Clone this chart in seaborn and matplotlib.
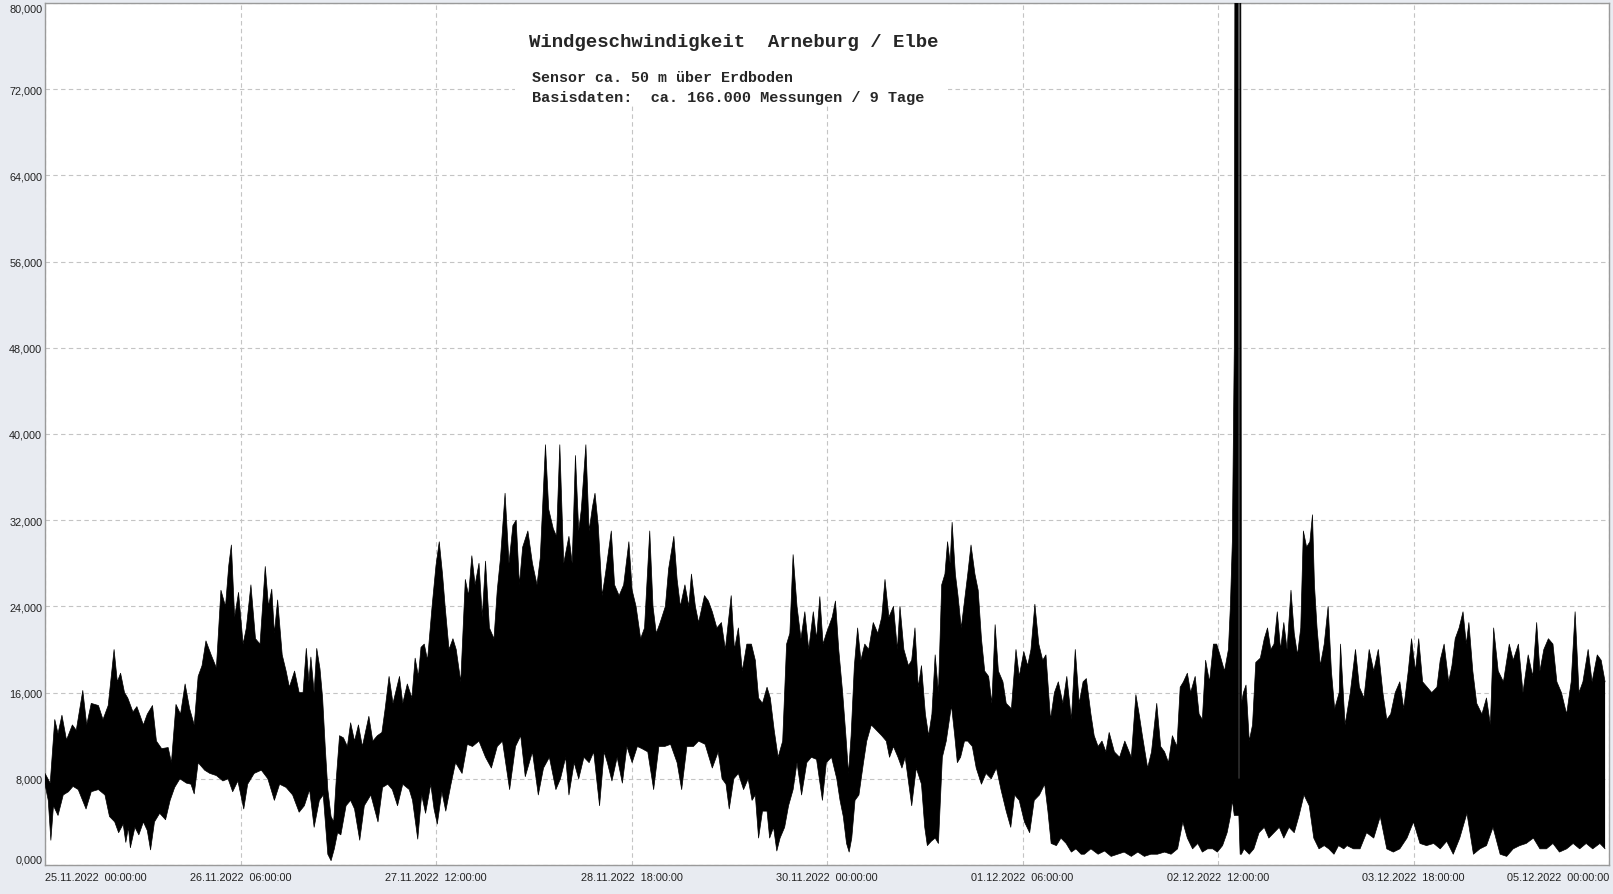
import matplotlib
matplotlib.use("Agg")
import matplotlib.pyplot as plt
import matplotlib.patches as mpatches
import seaborn as sns
import numpy as np

# hours since 25.11.2022 00:00 and wind speed
# upper edge of the band (peaks)
top_h = [0, 0.8, 1.5, 2.0, 2.6, 3.3, 4.2, 4.8, 5.8, 6.4, 7.1, 8.2, 8.9, 9.7, 10.6, 11.1, 11.6, 12.2, 12.7, 13.5,
         14.1, 15.1, 15.7, 16.5, 17.1, 17.9, 18.9, 19.4, 20.1, 20.8, 21.5, 22.2, 22.9, 23.5, 24.1, 24.7, 25.5, 26.3,
         27.0, 27.7, 28.2, 28.6, 29.1, 29.7, 30.4, 30.9, 31.6, 32.3, 33.0, 33.8, 34.3, 34.8, 35.2, 35.7, 36.4, 37.0,
         37.5, 38.3, 39.0, 39.6, 40.1, 40.5, 40.8, 41.3, 41.7, 42.2, 42.6, 43.0, 43.4, 43.9, 44.3, 44.7, 45.2, 45.8,
         46.4, 46.9, 47.5, 48.1, 48.7, 49.7, 50.3, 51.0, 51.7, 52.2, 52.8, 53.4, 54.4, 54.9, 55.6, 56.3, 56.8, 57.3,
         57.7, 58.2, 58.7, 59.4, 60.0, 60.5, 61.0, 61.4, 62.0, 62.6, 63.1, 63.8, 64.5, 65.0, 65.5, 66.0, 66.6, 67.1,
         67.6, 68.2, 68.9, 69.4, 69.9, 70.6, 71.2, 71.8, 72.3, 72.8, 73.3, 74.1, 74.8, 75.5, 76.0, 76.8, 77.3, 78.0,
         78.5, 79.0, 79.6, 80.4, 80.9, 81.4, 81.9, 82.3, 83.0, 83.5, 84.0, 84.4, 84.9, 85.5, 86.0, 86.9, 87.4, 88.1,
         88.8, 89.6, 90.1, 90.7, 91.4, 92.0, 92.8, 93.3, 93.8, 94.4, 95.2, 95.7, 96.5, 97.0, 97.5, 98.2, 98.8, 99.2,
         99.8, 100.3, 101.2, 101.8, 102.4, 103.1, 103.8, 104.4, 105.3, 105.8, 106.4, 107.0, 107.7, 108.4, 109.0,
         109.5, 110.1, 110.8, 111.3, 111.9, 112.5, 113.2, 113.8, 114.3, 114.8, 115.4, 116.0, 116.6, 117.2, 117.9,
         118.4, 118.9, 119.4, 119.9, 120.8, 121.3, 121.8, 122.4, 122.9, 123.3, 123.7, 124.2, 124.7, 125.2, 125.8,
         126.4, 127.1, 127.8, 128.4, 128.9, 129.5, 130.2, 130.8, 131.2, 131.8, 132.5, 133.0, 133.5, 134.0, 134.5,
         135.1, 135.6, 136.1, 136.6, 137.1, 137.6, 138.1, 138.5, 138.9, 139.2, 139.7, 140.1, 140.6, 141.1, 141.6,
         142.1, 142.7, 143.2, 143.7, 144.2, 144.8, 145.3, 145.8, 146.3, 147.0, 147.5, 148.3, 149.0, 149.5, 150.2,
         150.8, 151.3, 151.9, 152.5, 153.1, 153.6, 154.3, 154.9, 155.5, 156.2, 156.8, 157.5, 158.1, 158.7, 159.3,
         159.8, 160.5, 161.0, 161.6, 162.2, 162.8, 163.3, 164.1, 164.9, 165.7, 166.7, 167.4, 167.9, 168.4, 169.2,
         169.8, 170.6, 171.2, 171.8, 172.4, 173.0, 173.7, 174.2, 174.7, 175.3, 175.8, 176.5, 177.1, 177.6, 178.1,
         178.7, 179.3, 179.8, 180.3, 181.0, 181.6, 181.9, 182.2, 182.5, 182.6, 183.1, 183.15, 183.3, 183.35, 183.5,
         183.6, 183.9, 184.3, 184.8, 185.3, 185.8, 186.5, 187.1, 187.6, 188.1, 188.6, 189.1, 189.6, 190.1, 190.6,
         191.2, 191.7, 192.2, 192.7, 193.1, 193.6, 194.1, 194.5, 194.8, 195.2, 195.7, 196.3, 196.9, 197.4, 197.9,
         198.6, 198.8, 199.5, 200.3, 201.1, 201.7, 202.4, 203.2, 203.9, 204.6, 205.3, 205.9, 206.5, 207.2, 207.9,
         208.5, 209.2, 209.7, 210.3, 210.8, 211.4, 212.1, 212.8, 213.6, 214.1, 214.7, 215.4, 215.9, 216.4, 217.0,
         217.6, 218.1, 218.5, 219.1, 219.7, 220.5, 221.2, 221.8, 222.3, 223.0, 223.8, 224.7, 225.3, 226.1, 226.8,
         227.6, 228.3, 228.9, 229.4, 230.0, 230.7, 231.4, 232.0, 232.7, 233.5, 234.2, 234.8, 235.4, 236.0, 236.8,
         237.4, 238.2, 238.8, 239.4]
top_v = [8.5, 7.6, 13.5, 12.2, 13.9, 11.6, 13.0, 12.5, 16.2, 13.0, 15.0, 14.8, 13.5, 14.8, 20.0, 17.0, 17.8, 16.0, 15.5, 14.2,
         14.7, 13.0, 14.0, 14.8, 11.5, 10.8, 10.9, 9.5, 14.9, 14.0, 16.8, 14.5, 13.0, 17.5, 18.5, 20.8, 19.5, 18.3,
         25.5, 24.0, 27.8, 29.7, 23.0, 25.3, 20.5, 22.0, 26.0, 21.0, 20.5, 27.7, 24.0, 25.6, 21.5, 24.6, 19.5, 18.0,
         16.5, 18.0, 16.0, 16.0, 20.1, 17.0, 19.3, 16.0, 20.1, 18.2, 15.5, 11.0, 7.0, 4.5, 4.0, 8.0, 12.0, 11.8,
         11.0, 13.2, 11.5, 13.0, 11.0, 13.8, 11.5, 12.0, 12.3, 14.5, 17.5, 15.0, 17.5, 15.0, 16.8, 15.5, 19.2, 17.5,
         20.2, 20.5, 19.0, 24.0, 27.8, 30.0, 27.0, 24.0, 20.0, 21.0, 20.0, 17.0, 26.5, 25.0, 28.7, 26.0, 28.0, 23.0,
         28.2, 22.0, 21.0, 25.5, 28.5, 34.5, 28.0, 31.5, 32.0, 26.0, 29.5, 31.0, 28.0, 26.0, 28.5, 39.0, 33.0, 31.2,
         30.5, 39.0, 28.0, 30.5, 28.0, 38.0, 31.0, 33.0, 39.0, 31.0, 33.2, 34.5, 31.5, 25.0, 27.0, 31.0, 26.0, 25.0,
         26.0, 30.0, 25.5, 24.0, 21.0, 22.0, 31.0, 24.0, 21.5, 22.5, 24.0, 27.5, 30.5, 26.5, 24.0, 26.0, 24.0, 27.0,
         24.0, 22.5, 25.0, 24.5, 23.5, 22.0, 22.5, 20.0, 25.0, 20.0, 22.0, 18.0, 20.5, 20.5, 19.0,
         15.5, 15.0, 16.5, 15.5, 12.5, 10.0, 11.5, 20.5, 21.5, 28.8, 24.0, 21.0, 23.5, 20.0, 23.5,
         21.0, 24.9, 20.5, 21.5, 23.0, 24.5, 20.0, 16.0, 12.0, 8.5, 12.0, 18.5, 22.0, 19.0, 20.5,
         20.0, 22.5, 21.5, 23.0, 26.5, 23.0, 24.0, 20.0, 24.0, 20.0, 18.5, 19.0, 22.0, 16.5, 18.5,
         14.0, 12.0, 14.0, 19.5, 16.0, 26.0, 27.0, 30.0, 28.0, 31.8, 27.0, 25.0, 22.0, 24.5, 27.0,
         29.7, 27.0, 25.5, 21.0, 18.0, 17.5, 15.0, 22.3, 18.0, 17.0, 15.0, 14.5, 20.0, 17.5, 19.8,
         18.5, 20.0, 24.2, 20.5, 19.0, 19.5, 13.5, 16.0, 17.0, 15.0, 17.5, 13.5, 20.0, 15.0, 17.0,
         17.3, 14.0, 12.0, 11.0, 11.5, 10.5, 12.3, 10.5, 10.0, 11.5, 10.0, 15.8, 14.0, 12.0, 9.0,
         10.5, 15.0, 11.0, 10.5, 9.5, 12.0, 11.0, 16.5, 17.0, 17.8, 16.0, 17.5, 14.0, 13.5, 19.0,
         17.0, 20.5, 20.5, 19.5, 18.0, 20.0, 24.0, 30.0, 48.0, 85.0, 85.0, 8.0, 8.0, 85.0, 85.0,
         15.0, 16.0, 16.7, 11.5, 13.0, 18.8, 19.2, 21.0, 22.0, 20.0, 20.5, 23.5, 20.0, 22.5, 20.0,
         25.5, 21.5, 19.5, 22.0, 31.0, 29.5, 30.0, 32.5, 26.0, 22.0, 18.5, 20.5, 24.0, 18.0, 14.5,
         16.0, 20.5, 13.0, 16.0, 20.0, 16.5, 15.5, 20.0, 18.0, 20.0, 16.0, 13.5, 14.0, 16.0, 17.0,
         14.5, 18.0, 21.0, 18.0, 21.0, 17.0, 16.5, 16.0, 16.5, 19.0, 20.5, 17.0, 18.5, 21.0, 22.0,
         23.5, 20.5, 22.5, 18.0, 15.0, 14.0, 15.5, 13.0, 22.0, 18.0, 17.0, 20.5, 19.0, 20.5, 16.0,
         19.5, 17.5, 22.5, 18.0, 20.0, 21.0, 20.5, 17.0, 16.0, 14.0, 17.0, 23.5, 16.0, 17.0, 20.0,
         17.0, 19.5, 19.0, 17.0]

# lower edge of the band (troughs)
low_h = [0, 0.5, 0.9, 1.3, 2.0, 2.8, 3.6, 4.3, 5.1, 6.3, 7.1, 8.2, 9.2, 9.9, 10.7, 11.3, 12.0, 12.4, 12.8, 13.1,
         13.8, 14.4, 15.1, 15.7, 16.2, 16.8, 17.6, 18.5, 19.2, 19.9, 20.7, 21.7, 22.4, 22.9, 23.5, 24.5, 25.3, 26.3,
         27.3, 28.1, 28.8, 29.6, 30.5, 31.1, 32.1, 33.2, 34.2, 35.2, 36.0, 37.0, 38.0, 39.0, 39.8, 40.6, 41.3, 42.1,
         42.7, 43.4, 43.9, 44.4, 44.9, 45.4, 46.2, 46.9, 47.5, 48.3, 49.0, 50.0, 51.1, 51.8, 52.6, 53.3, 54.1, 54.9,
         55.9, 56.4, 57.2, 57.8, 58.4, 59.2, 59.7, 60.2, 60.9, 61.5, 62.3, 63.0, 64.0, 64.8, 65.6, 66.6, 67.6, 68.5,
         69.4, 70.2, 71.3, 72.2, 73.0, 73.7, 74.8, 75.7, 76.5, 77.4, 78.4, 79.1, 79.9, 80.4, 81.2, 81.9, 82.7, 83.5,
         84.2, 85.1, 85.8, 86.3, 87.0, 87.8, 88.6, 89.3, 90.1, 90.9, 91.6, 92.5, 93.4, 94.2, 95.1, 96.0, 97.0, 97.7,
         98.5, 99.5, 100.3, 101.3, 102.4, 103.3, 103.9, 104.5, 105.0, 105.7, 106.4, 107.2, 107.9, 108.5, 109.0,
         109.5, 110.1, 110.8, 111.2, 111.8, 112.3, 112.8, 113.5, 114.1, 114.8, 115.4, 116.1, 116.9, 117.6, 118.4,
         119.3, 119.9, 120.7, 121.5, 122.0, 122.5, 123.0, 123.4, 123.8, 124.3, 124.9, 125.6, 126.1, 126.8, 127.6,
         128.4, 129.1, 129.6, 130.2, 130.9, 131.5, 132.0, 133.0, 133.7, 134.5, 135.0, 135.4, 136.0, 136.6, 137.1,
         137.7, 138.3, 139.1, 139.6, 140.0, 140.5, 141.1, 141.6, 142.3, 142.9, 143.7, 144.4, 145.2, 146.0, 146.7,
         147.5, 148.2, 148.8, 149.5, 150.3, 151.1, 151.8, 152.6, 153.4, 153.9, 154.4, 155.2, 155.9, 156.7, 157.5,
         158.2, 159.0, 159.5, 160.5, 161.6, 162.6, 163.6, 164.6, 165.6, 166.7, 167.7, 168.7, 169.7, 170.7, 171.8,
         172.8, 173.8, 174.6, 175.3, 176.1, 176.9, 177.6, 178.4, 179.2, 179.9, 180.7, 181.4, 181.9, 182.2, 182.5,
         183.2, 183.4, 183.6, 184.0, 184.8, 185.5, 186.3, 187.1, 187.8, 188.6, 189.4, 190.1, 190.9, 191.7, 192.4,
         193.2, 194.0, 194.7, 195.5, 196.3, 197.0, 197.8, 198.5, 199.3, 199.8, 200.8, 201.8, 202.8, 203.9, 204.9,
         205.9, 206.9, 207.9, 209.0, 210.0, 211.0, 212.0, 213.1, 214.1, 215.1, 216.1, 217.1, 218.2, 219.2, 220.2,
         221.2, 222.2, 223.3, 224.3, 225.3, 226.3, 227.3, 228.4, 229.4, 230.4, 231.4, 232.4, 233.5, 234.5, 235.5,
         236.5, 237.5, 238.6, 239.4]
low_v = [7.5, 6.0, 2.3, 5.5, 4.6, 6.5, 6.8, 7.3, 7.0, 5.2, 6.8, 7.0, 6.5, 4.5, 4.0, 3.0, 3.8, 2.1, 3.5, 1.6,
         3.5, 2.8, 4.0, 3.2, 1.4, 4.0, 4.8, 4.2, 6.0, 7.2, 8.0, 7.6, 7.5, 6.6, 9.5, 8.8, 8.5, 8.3,
         7.8, 8.0, 6.8, 7.8, 5.2, 7.5, 8.5, 8.8, 8.0, 6.0, 7.5, 7.2, 6.5, 4.9, 5.5, 7.0, 3.5, 6.0,
         6.5, 1.0, 0.4, 1.5, 3.0, 2.8, 5.5, 6.0, 5.2, 2.3, 5.5, 6.5, 4.0, 7.2, 7.5, 7.0, 5.5, 7.5,
         7.0, 6.0, 2.4, 6.5, 4.8, 7.5, 5.2, 3.8, 6.8, 5.0, 7.5, 9.5, 8.5, 11.2, 11.0, 11.5, 10.0, 9.0,
         11.0, 11.5, 7.0, 11.0, 12.0, 8.2, 10.5, 6.5, 9.0, 10.0, 7.0, 8.0, 10.0, 6.5, 9.5, 8.0, 10.0, 9.5,
         10.5, 5.5, 10.5, 9.5, 7.8, 10.0, 7.6, 11.0, 9.5, 11.0, 10.8, 10.5, 7.0, 11.0, 11.0, 11.2, 9.5, 7.0,
         11.0, 11.0, 11.5, 11.2, 9.0, 10.5, 8.0, 7.5, 5.2, 8.0, 8.5, 7.0, 8.0, 6.0, 6.5,
         2.5, 5.0, 5.0, 2.5, 3.5, 1.3, 2.5, 3.5, 5.5, 7.0, 9.5, 6.5, 9.5, 10.0, 9.8,
         6.0, 9.5, 10.0, 8.0, 6.0, 4.5, 2.0, 1.2, 2.5, 6.0, 6.5, 9.5, 11.5, 13.0, 12.5,
         12.0, 11.5, 10.0, 11.0, 10.0, 9.0, 10.0, 5.5, 9.0, 7.5, 3.5, 1.8, 2.2, 2.5, 2.0,
         10.0, 11.5, 14.8, 12.0, 9.5, 10.0, 11.5, 11.5, 11.0, 9.0, 7.5, 8.5, 8.0, 9.0, 7.0,
         5.0, 3.5, 6.5, 6.0, 4.0, 3.0, 6.0, 6.5, 7.5, 5.0, 2.0, 1.8, 2.5, 2.0, 1.2,
         1.5, 1.0, 1.0, 1.5, 1.0, 1.3, 0.8, 1.0, 1.2, 0.8, 1.2, 0.8, 1.0, 1.0, 1.2,
         1.0, 1.5, 4.0, 2.5, 1.5, 2.0, 1.2, 1.5, 1.5, 1.2, 1.8, 3.0, 4.5, 6.0, 4.6,
         4.6, 1.0, 1.0, 1.5, 1.0, 1.5, 3.0, 3.5, 2.5, 3.0, 3.5, 2.5, 3.5, 3.0, 4.5,
         6.5, 5.5, 2.5, 1.5, 1.8, 1.5, 1.0, 1.8, 1.5, 1.8, 1.5, 1.5, 3.0, 2.5, 4.5,
         1.5, 1.2, 1.5, 2.5, 4.0, 2.0, 1.8, 2.0, 1.5, 2.2, 1.0, 2.5, 4.8, 1.0, 1.5,
         1.8, 3.5, 1.0, 0.8, 1.5, 1.8, 2.0, 2.5, 1.5, 1.5, 2.0, 1.2, 1.5, 2.0, 1.5,
         2.0, 1.5, 2.0, 1.5]

tick_hours = [0, 30, 60, 90, 120, 150, 180, 210, 240]
tick_labels = ["25.11.2022  00:00:00", "26.11.2022  06:00:00", "27.11.2022  12:00:00",
               "28.11.2022  18:00:00", "30.11.2022  00:00:00", "01.12.2022  06:00:00",
               "02.12.2022  12:00:00", "03.12.2022  18:00:00", "05.12.2022  00:00:00"]
y_ticks = [0, 8, 16, 24, 32, 40, 48, 56, 64, 72, 80]

title = "Windgeschwindigkeit  Arneburg / Elbe"
line2 = "Sensor ca. 50 m über Erdboden"
line3 = "Basisdaten:  ca. 166.000 Messungen / 9 Tage"

sns.set_style("white")
plt.rcParams['font.family'] = ['Liberation Sans', 'DejaVu Sans']

W, H = 1613, 895
fig = plt.figure(figsize=(W / 100, H / 100), dpi=100, facecolor='#e8ebf1')
L, R, T, B = 45, 1609, 4, 866
ax = fig.add_axes([L / W, (H - B) / H, (R - L) / W, (B - T) / H])
ax.set_facecolor('white')

# the band: upper edge forward, lower edge back
poly_x = list(top_h) + list(low_h[::-1])
poly_y = list(top_v) + list(low_v[::-1])
ax.fill(poly_x, poly_y, color='black', lw=0, zorder=3)
sns.lineplot(x=top_h, y=top_v, color='black', lw=0.5, estimator=None, sort=False, ax=ax, zorder=3)
sns.lineplot(x=low_h, y=low_v, color='black', lw=0.5, estimator=None, sort=False, ax=ax, zorder=3)

ax.set_xlim(0, 240)
ax.set_ylim(0, 80)
ax.set_xlabel('')
ax.set_ylabel('')

ax.set_xticks(tick_hours)
ax.set_xticklabels(tick_labels, fontsize=7.8, color='#222222')
ax.set_xticks(np.arange(0, 240.1, 7.5), minor=True)
ax.set_yticks(y_ticks)
ax.set_yticklabels([f"{v:.3f}".replace('.', ',') for v in y_ticks], fontsize=7.8, color='#222222')
ax.set_yticks(np.arange(0, 80.1, 2), minor=True)

xl = ax.get_xticklabels()
xl[0].set_ha('left')
xl[-1].set_ha('right')
yl = ax.get_yticklabels()
yl[0].set_va('bottom')
yl[-1].set_va('top')

ax.tick_params(axis='both', which='both', direction='in', color='#a0a0a0')
ax.tick_params(axis='both', which='major', length=0)
ax.tick_params(axis='both', which='minor', length=4, width=0.8)
ax.tick_params(axis='x', which='major', pad=5)
ax.tick_params(axis='y', which='major', pad=2)

ax.grid(True, which='major', color='#c4c4c4', lw=0.8, ls=(0, (4, 3)), zorder=1)
ax.set_axisbelow(True)
for s in ax.spines.values():
    s.set_color('#9a9a9a')
    s.set_linewidth(1.0)
    s.set_visible(True)

# white box behind the headline
ax.add_patch(mpatches.Rectangle((0.3005, 0.8817), 0.277, 0.1183, transform=ax.transAxes,
                                facecolor='white', edgecolor='none', zorder=2))
mono = ['Liberation Mono', 'DejaVu Sans Mono']
ax.text(0.3095, 0.9559, title, transform=ax.transAxes, family=mono, fontweight='bold',
        fontsize=13.7, va='center', ha='left', zorder=4)
ax.text(0.3114, 0.9142, line2, transform=ax.transAxes, family=mono, fontweight='bold',
        fontsize=10.8, va='center', ha='left', zorder=4)
ax.text(0.3114, 0.8910, line3, transform=ax.transAxes, family=mono, fontweight='bold',
        fontsize=11.0, va='center', ha='left', zorder=4)

fig.savefig('out.png', dpi=100, facecolor=fig.get_facecolor())
